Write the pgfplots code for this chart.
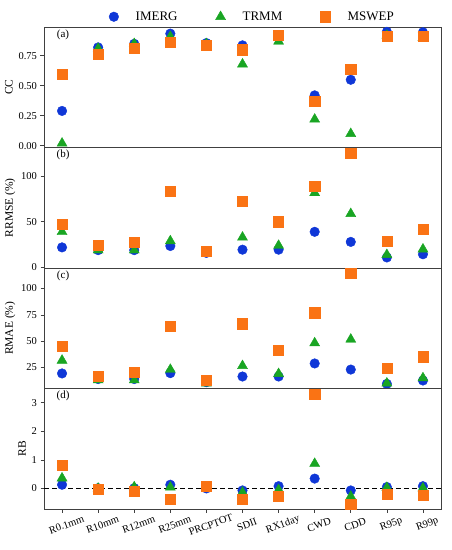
\documentclass[border=0pt]{standalone}
\usepackage{pgfplots}
\pgfplotsset{compat=1.18}
\usepackage{fontspec}
\setmainfont{Liberation Serif}
\definecolor{cIM}{RGB}{15,55,215}
\definecolor{cTR}{RGB}{25,165,35}
\definecolor{cMS}{RGB}{250,115,20}
\pgfplotsset{
  panel/.style={
    scale only axis, width=397pt, height=120.5pt,
    xmin=-0.5, xmax=10.5, clip=false,
    axis line style={black!75, line width=0.7pt},
    tick style={black!75, line width=0.6pt},
    tick align=outside, major tick length=3.5pt,
    xtick=\empty,
    ytick pos=left,
    /pgf/number format/assume math mode=true,
    tick label style={font=\fontsize{10.5}{12}\selectfont},
    label style={font=\fontsize{11.5}{13}\selectfont},
    ylabel shift=-1pt,
  },
  mIM/.style={only marks, mark=*, mark size=4.8pt, mark options={fill=cIM, draw=cIM}},
  mTR/.style={only marks, mark=triangle*, mark size=5.8pt, mark options={fill=cTR, draw=cTR}},
  mMS/.style={only marks, mark=square*, mark size=5.1pt, mark options={fill=cMS, draw=cMS}},
}
\begin{document}
\begin{tikzpicture}
\useasboundingbox (-44pt,-523pt) rectangle (407pt,27pt);
% (a) CC
\begin{axis}[panel, at={(0,0)}, anchor=north west,
  ymin=-0.015, ymax=0.99, ytick={0,0.25,0.5,0.75},
  yticklabel style={/pgf/number format/.cd, fixed, fixed zerofill, precision=2},
  ylabel={CC},
  legend columns=3,
  legend style={draw=none, fill=none, at={(0.525,1.0)}, anchor=south, yshift=1pt,
    font=\fontsize{13}{15}\selectfont,
    /tikz/every even column/.append style={column sep=36pt}},
  legend cell align=left,
]
\addplot[mIM] coordinates {(0,0.29)(1,0.82)(2,0.85)(3,0.935)(4,0.856)(5,0.837)(6,0.90)(7,0.42)(8,0.55)(9,0.95)(10,0.946)};
\addlegendentry{\hspace{15pt}IMERG}
\addplot[mTR] coordinates {(0,0.02)(1,0.81)(2,0.85)(3,0.91)(4,0.85)(5,0.68)(6,0.87)(7,0.22)(8,0.10)(9,0.92)(10,0.90)};
\addlegendentry{\hspace{15pt}TRMM}
\addplot[mMS] coordinates {(0,0.596)(1,0.76)(2,0.81)(3,0.86)(4,0.837)(5,0.80)(6,0.92)(7,0.37)(8,0.635)(9,0.91)(10,0.91)};
\addlegendentry{\hspace{15pt}MSWEP}
\node[anchor=center, font=\fontsize{11}{13}\selectfont] at (rel axis cs:0.048,0.935) {(a)};
\end{axis}
% (b) RRMSE
\begin{axis}[panel, at={(0,-120.5pt)}, anchor=north west,
  ymin=-0.5, ymax=131, ytick={0,50,100},
  ylabel={RRMSE (\%)},
]
\addplot[mIM] coordinates {(0,22)(1,19)(2,19)(3,23.5)(4,16)(5,19.5)(6,19.5)(7,39)(8,28)(9,11)(10,14.5)};
\addplot[mTR] coordinates {(0,39)(1,19)(2,19)(3,29)(4,15.5)(5,33)(6,24)(7,81.5)(8,58.7)(9,14)(10,20)};
\addplot[mMS] coordinates {(0,47)(1,24)(2,28)(3,83)(4,18)(5,72.5)(6,50)(7,89)(8,124.5)(9,29)(10,42)};
\node[anchor=center, font=\fontsize{11}{13}\selectfont] at (rel axis cs:0.048,0.935) {(b)};
\end{axis}
% (c) RMAE
\begin{axis}[panel, at={(0,-241pt)}, anchor=north west,
  ymin=5, ymax=119.5, ytick={25,50,75,100},
  ylabel={RMAE (\%)},
]
\addplot[mIM] coordinates {(0,19.3)(1,14)(2,14)(3,19.6)(4,11)(5,16.4)(6,16.4)(7,28.8)(8,23)(9,9.4)(10,12.6)};
\addplot[mTR] coordinates {(0,31.7)(1,13)(2,13)(3,23)(4,10)(5,26.6)(6,19)(7,48.2)(8,51.7)(9,10)(10,15)};
\addplot[mMS] coordinates {(0,45.3)(1,16.4)(2,20.5)(3,64)(4,13.2)(5,66.6)(6,41.2)(7,77)(8,114.3)(9,24.4)(10,35.2)};
\node[anchor=center, font=\fontsize{11}{13}\selectfont] at (rel axis cs:0.048,0.935) {(c)};
\end{axis}
% (d) RB
\begin{axis}[panel, at={(0,-361.5pt)}, anchor=north west,
  ymin=-0.72, ymax=3.5, ytick={0,1,2,3},
  ylabel={RB},
  xtick={0,...,10}, xtick pos=bottom,
  xticklabels={R0.1mm,R10mm,R12mm,R25mm,PRCPTOT,SDII,RX1day,CWD,CDD,R95p,R99p},
  xticklabel style={rotate=20, anchor=center, yshift=-13pt, font=\fontsize{10.5}{12}\selectfont},
]
\addplot[black, line width=1.1pt, dash pattern=on 5pt off 3pt, forget plot] coordinates {(-0.5,0)(10.5,0)};
\addplot[mIM] coordinates {(0,0.13)(1,0.01)(2,0.01)(3,0.13)(4,0)(5,-0.07)(6,0.08)(7,0.345)(8,-0.07)(9,0.05)(10,0.08)};
\addplot[mTR] coordinates {(0,0.36)(1,0)(2,0.05)(3,0.04)(4,0.0)(5,-0.14)(6,-0.05)(7,0.87)(8,-0.28)(9,0.03)(10,0.01)};
\addplot[mMS] coordinates {(0,0.82)(1,-0.02)(2,-0.1)(3,-0.37)(4,0.09)(5,-0.39)(6,-0.28)(7,3.3)(8,-0.54)(9,-0.2)(10,-0.25)};
\node[anchor=center, font=\fontsize{11}{13}\selectfont] at (rel axis cs:0.048,0.935) {(d)};
\end{axis}
\end{tikzpicture}
\end{document}
